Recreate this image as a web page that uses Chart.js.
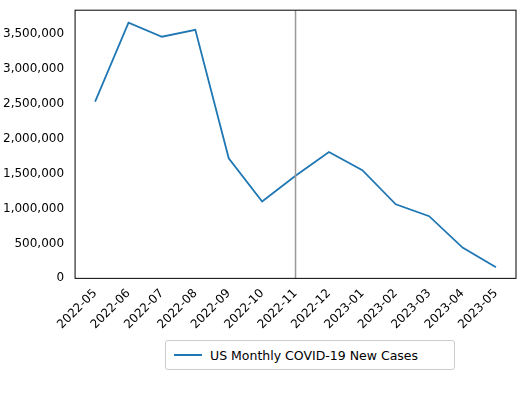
<!DOCTYPE html>
<html><head><script src="https://cdn.jsdelivr.net/npm/chart.js@4"></script>
<style>body{margin:0;background:#fff;font-family:"DejaVu Sans";}
#wrap{position:relative;width:520px;height:335px;}
#leg{position:absolute;left:165px;top:340px;width:290px;height:30px;border:1px solid #ccc;border-radius:3px;box-sizing:border-box;font-size:12.5px;display:flex;align-items:center;padding-left:8px;color:#000}
#leg span.l{display:inline-block;width:28px;height:2px;background:#1f77b4;margin-right:8px}</style></head>
<body><div id="wrap"><canvas id="c" width="520" height="335"></canvas></div>
<div id="leg"><span class="l"></span>US Monthly COVID-19 New Cases</div>
<script>
const categories=["2022-05","2022-06","2022-07","2022-08","2022-09","2022-10","2022-11","2022-12","2023-01","2023-02","2023-03","2023-04","2023-05"];
const cases=[2530000,3660000,3460000,3560000,1720000,1100000,1470000,1810000,1550000,1060000,890000,440000,160000];
const yTicks=[0,500000,1000000,1500000,2000000,2500000,3000000,3500000];
const markerIndex=6;
const vline={id:'vline',afterDatasetsDraw(ch){const x=ch.scales.x.getPixelForValue(markerIndex),a=ch.chartArea,c=ch.ctx;c.save();c.strokeStyle='#999';c.lineWidth=1.5;c.beginPath();c.moveTo(x,a.top);c.lineTo(x,a.bottom);c.stroke();c.restore();}};
const box={id:'box',afterDraw(ch){const a=ch.chartArea,c=ch.ctx;c.save();c.strokeStyle='#000';c.lineWidth=1;c.strokeRect(a.left,a.top,a.right-a.left,a.bottom-a.top);c.restore();}};
new Chart(document.getElementById('c'),{type:'line',
data:{datasets:[{data:cases.map((v,i)=>({x:i,y:v})),borderColor:'#1f77b4',borderWidth:1.8,pointRadius:0,tension:0}]},
options:{responsive:false,animation:false,layout:{padding:{top:4,right:4,left:0}},
plugins:{legend:{display:false},tooltip:{enabled:false}},
scales:{x:{type:'linear',min:-0.6,max:12.6,grid:{display:false,drawTicks:true,tickLength:5},border:{display:false},
afterBuildTicks(s){s.ticks=categories.map((_,i)=>({value:i}));},
ticks:{autoSkip:false,maxRotation:45,minRotation:45,color:'#000',font:{family:'DejaVu Sans',size:12},callback:(v)=>categories[v]}},
y:{min:0,max:3840000,grid:{display:false},border:{display:false},
afterBuildTicks(s){s.ticks=yTicks.map(v=>({value:v}));},
ticks:{color:'#000',font:{family:'DejaVu Sans',size:12},callback:v=>v.toLocaleString('en-US')}}}},
plugins:[vline,box]});
</script>
</body></html>
